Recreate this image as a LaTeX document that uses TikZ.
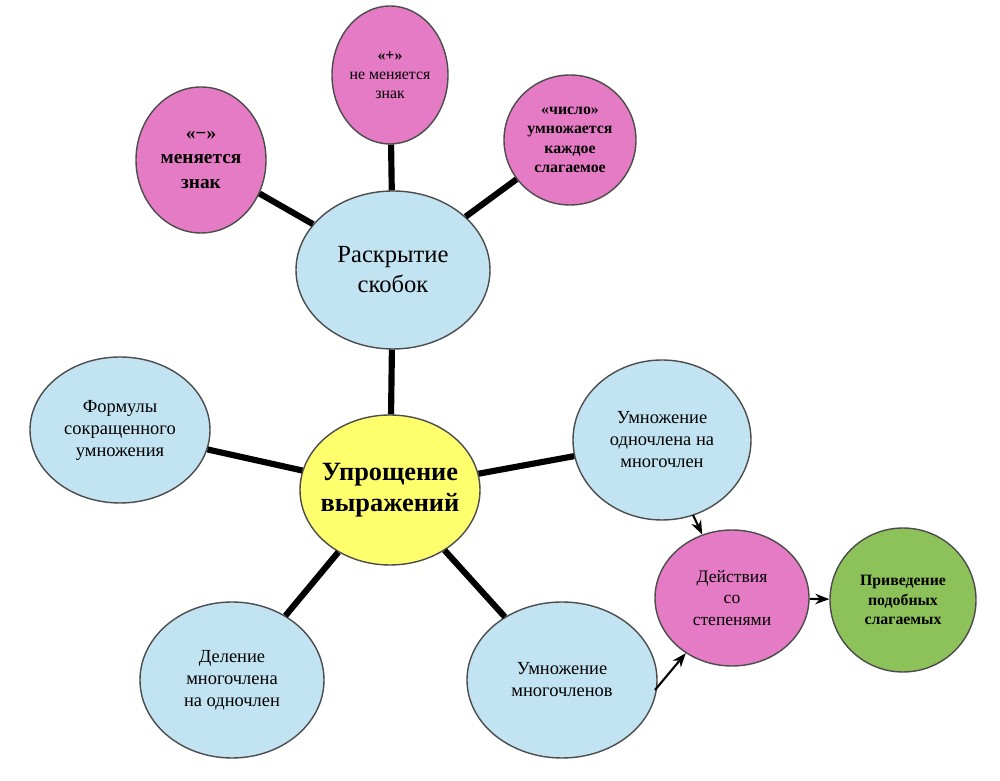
\documentclass[tikz,border=0pt]{standalone}
\usepackage{fontspec}
\setmainfont{Liberation Serif}
\usetikzlibrary{shapes.geometric,arrows.meta}
\definecolor{skyblue}{HTML}{C2E4F2}
\definecolor{rosepink}{HTML}{E57BC4}
\definecolor{lemon}{HTML}{FFFF6E}
\definecolor{leafgreen}{HTML}{8DC25A}
\tikzset{
  bubble/.style={draw=black!70, ellipse, line width=0.8pt, align=center, inner sep=-6pt},
  bluebub/.style={bubble, fill=skyblue, font=\fontsize{10.5}{12.5}\selectfont},
  pinkbub/.style={bubble, fill=rosepink, font=\bfseries\fontsize{9}{11}\selectfont},
  spoke/.style={line width=3.5pt},
  flow/.style={-{Stealth[length=8pt]}, line width=1.2pt}
}
\begin{document}
\begin{tikzpicture}[x=2cm,y=2cm]
      \useasboundingbox (0,0) rectangle (10,7.81);

      % Центр
      \node[bubble, fill=lemon, minimum width=3.6cm, minimum height=3.0cm, font=\bfseries\fontsize{15}{18}\selectfont] (main) at (3.90,2.91) {Упрощение\\выражений};

      % Раскрытие скобок и знаки
      \node[bluebub, minimum width=3.88cm, minimum height=3.16cm, font=\fontsize{14}{17}\selectfont] (brackets) at (3.93,5.11) {Раскрытие\\скобок};
      \node[pinkbub, minimum width=2.60cm, minimum height=2.92cm, font=\bfseries\fontsize{11}{14}\selectfont] (minus) at (2.01,6.21) {«−»\\меняется\\знак};
      \node[pinkbub, minimum width=2.32cm, minimum height=2.76cm, font=\fontsize{9}{11}\selectfont] (plus) at (3.90,7.06) {\textbf{«+»}\\не меняется\\знак};
      \node[pinkbub, minimum width=2.64cm, minimum height=2.60cm] (number) at (5.70,6.41) {«число»\\умножается\\каждое\\слагаемое};

      % Остальные приёмы
      \node[bluebub, minimum width=3.60cm, minimum height=2.92cm] (formulas) at (1.20,3.51) {Формулы\\сокращенного\\умножения};
      \node[bluebub, minimum width=3.56cm, minimum height=3.20cm] (monopoly) at (6.62,3.41) {Умножение\\одночлена на\\многочлен};
      \node[bluebub, minimum width=3.68cm, minimum height=3.12cm] (division) at (2.32,1.01) {Деление\\многочлена\\на одночлен};
      \node[bluebub, minimum width=3.80cm, minimum height=3.12cm] (polypoly) at (5.62,1.01) {Умножение\\многочленов};
      \node[pinkbub, minimum width=3.08cm, minimum height=2.72cm, font=\fontsize{10}{12}\selectfont] (powers) at (7.32,1.83) {Действия\\со\\степенями};
      \node[bubble, fill=leafgreen, minimum width=2.92cm, minimum height=2.88cm, font=\bfseries\fontsize{9}{11}\selectfont] (similar) at (9.03,1.81) {Приведение\\подобных\\слагаемых};

      % Линии
      \draw[spoke] (main) -- (brackets);
      \draw[spoke] (brackets) -- (minus);
      \draw[spoke] (brackets) -- (plus);
      \draw[spoke] (brackets) -- (number);
      \draw[spoke] (main) -- (formulas);
      \draw[spoke] (main) -- (monopoly);
      \draw[spoke] (main) -- (division);
      \draw[spoke] (main) -- (polypoly);

      % Стрелки
      \coordinate (m1) at (6.93,2.66);
      \coordinate (m2) at (6.55,0.91);
      \draw[flow] (m1) -- (powers);
      \draw[flow] (m2) -- (powers);
      \draw[flow] (powers) -- (similar);

    \end{tikzpicture}
\end{document}
